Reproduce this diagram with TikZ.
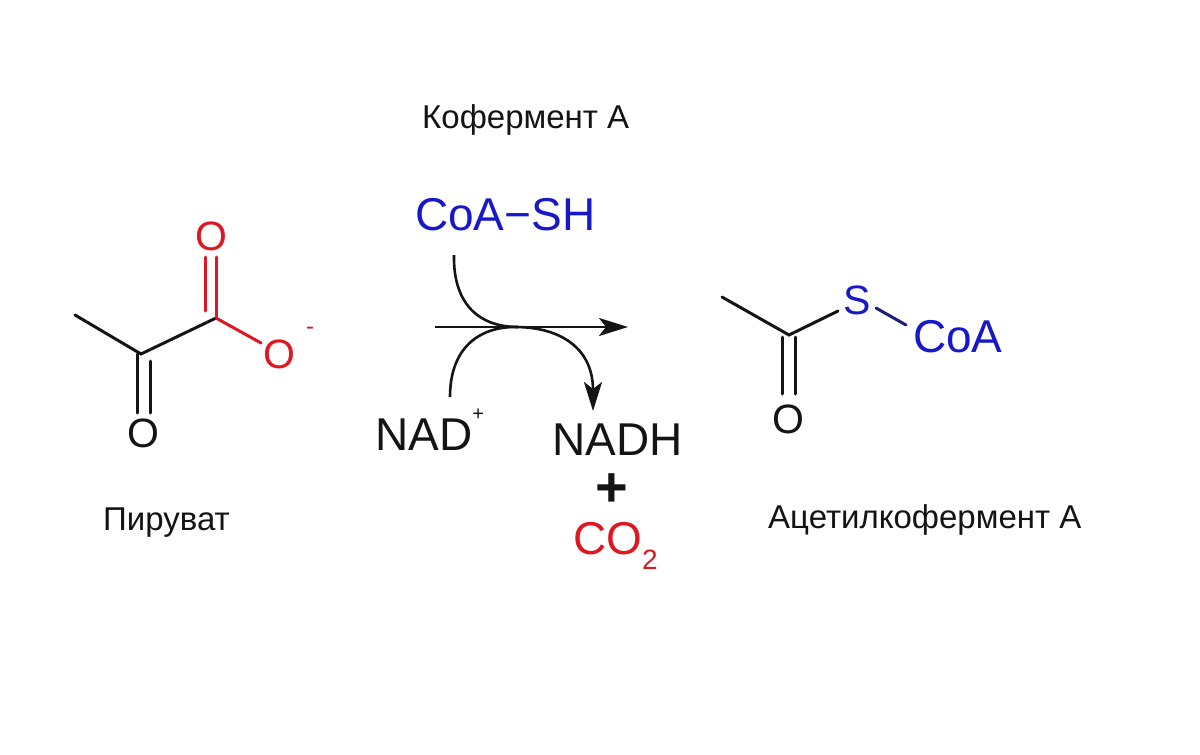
\documentclass[tikz,border=0pt]{standalone}
\usepackage{fontspec}
\setmainfont{Liberation Sans}
\usetikzlibrary{arrows.meta}
\definecolor{chemred}{RGB}{222,24,34}
\definecolor{chemblue}{RGB}{24,24,200}
\definecolor{bondblue}{RGB}{30,30,120}
\definecolor{inkblack}{RGB}{20,20,20}
\tikzset{
  label/.style={inner sep=0pt, anchor=base west, font=\fontsize{33}{38}\selectfont, text=inkblack},
  chem/.style={inner sep=0pt, anchor=base west, font=\fontsize{46}{50}\selectfont},
  atom/.style={inner sep=0pt, font=\fontsize{41}{44}\selectfont},
  bond/.style={line width=3pt, draw=inkblack, line cap=round},
  redbond/.style={bond, draw=chemred},
  rxn/.style={line width=2.6pt, draw=inkblack},
  tip/.style={-{Stealth[length=29pt,width=18pt,inset=7pt]}}
}
\begin{document}
\begin{tikzpicture}[x=1pt,y=-1pt]
\useasboundingbox[fill=white] (0,0) rectangle (1200,755);

% ---------- labels ----------
\node[label] (lcoa) at (422,128) {Кофермент А};
\node[label] (lpyr) at (103,530) {Пируват};
\node[label] (lacc) at (768,528) {Ацетилкофермент А};

% ---------- pyruvate ----------
\coordinate (m1) at (75,315);
\coordinate (c2) at (141,354);
\coordinate (c1) at (216,318);
\node[atom, text=chemred] (o1) at (211,236) {O};
\node[atom, text=chemred] (o2) at (279,354) {O};
\node[inner sep=0pt, text=chemred, font=\fontsize{24}{24}\selectfont] (o2m) at (310,331) {-};
\node[atom, text=inkblack] (o3) at (143,433) {O};
\coordinate (c1a) at (216,257);
\coordinate (c1b) at (205,311);
\coordinate (c1c) at (205,257);
\coordinate (c1o) at (261,343);
\coordinate (c2a) at (137,354);
\coordinate (c2b) at (137,413);
\coordinate (c2c) at (150,361);
\coordinate (c2d) at (150,413);
\draw[bond] (m1) -- (c2) -- (c1);
\draw[redbond] (c1) -- (c1a);
\draw[redbond] (c1b) -- (c1c);
\draw[redbond] (c1) -- (c1o);
\draw[bond] (c2a) -- (c2b);
\draw[bond] (c2c) -- (c2d);

% ---------- reaction arrow ----------
\node[chem, text=chemblue] (coash) at (415,230) {CoA−SH};
\node[chem, text=inkblack] (nad) at (375,450) {NAD\raisebox{30pt}{\fontsize{20}{20}\selectfont +}};
\node[chem, text=inkblack] (nadh) at (552,455) {NADH};
\node[inner sep=0pt, text=inkblack, font=\fontsize{56}{56}\selectfont\bfseries] (plus) at (612,490) {+};
\node[chem, text=chemred] (co2) at (573,554) {CO\raisebox{-15pt}{\fontsize{28}{28}\selectfont 2}};

\coordinate (a0) at (435,327);
\coordinate (a1) at (628,327);
\coordinate (s0) at (454,255);
\coordinate (s1) at (518,327);
\coordinate (n0) at (450,397);
\coordinate (n1) at (515,327);
\coordinate (n2) at (593,411);
\draw[rxn, tip] (a0) -- (a1);
\draw[rxn] (s0) .. controls (453,305) and (480,327) .. (s1);
\draw[rxn, tip] (n0) .. controls (450,347) and (480,327) .. (n1)
   .. controls (560,327) and (593,348) .. (n2);

% ---------- acetyl-CoA ----------
\coordinate (m2) at (722,297);
\coordinate (c3) at (789,335);
\node[atom, text=chemblue] (s) at (857,300) {S};
\node[chem, text=chemblue] (coa) at (913,352) {CoA};
\node[atom, text=inkblack] (o4) at (788,419) {O};
\coordinate (cs) at (838,311);
\coordinate (sa) at (876,308);
\coordinate (sb) at (906,325);
\coordinate (c3a) at (782,337);
\coordinate (c3b) at (782,394);
\coordinate (c3c) at (795,337);
\coordinate (c3d) at (795,394);
\draw[bond] (m2) -- (c3) -- (cs);
\draw[bond, draw=bondblue] (sa) -- (sb);
\draw[bond] (c3a) -- (c3b);
\draw[bond] (c3c) -- (c3d);
\end{tikzpicture}
\end{document}
